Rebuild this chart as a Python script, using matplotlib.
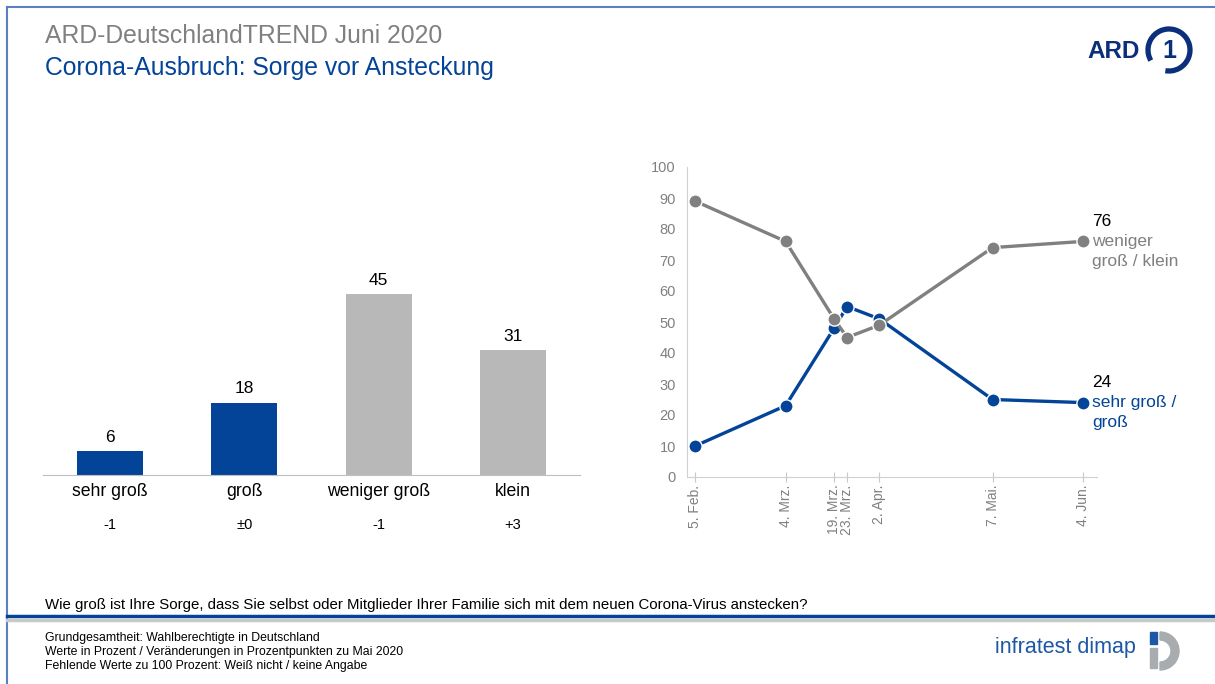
import matplotlib
matplotlib.use("Agg")
import matplotlib.pyplot as plt
from matplotlib.patches import Arc, Rectangle, Wedge
import datetime as dt

plt.rcParams['font.family'] = ['Liberation Sans', 'DejaVu Sans']

# data
bar_cats = ["sehr groß", "groß", "weniger groß", "klein"]
bar_vals = [6, 18, 45, 31]
bar_changes = ["-1", "±0", "-1", "+3"]

line_dates = ["2020-02-05", "2020-03-04", "2020-03-19", "2020-03-23",
              "2020-04-02", "2020-05-07", "2020-06-04"]
line_labels = ["5. Feb.", "4. Mrz.", "19. Mrz.", "23. Mrz.", "2. Apr.", "7. Mai.", "4. Jun."]
gross = [10, 23, 48, 55, 51, 25, 24]        # sehr groß / groß
klein = [89, 76, 51, 45, 49, 74, 76]        # weniger groß / klein

BLUE = "#034499"
GRAY = "#808080"
LGRAY = "#b8b8b8"

W, H = 1215, 684
fig = plt.figure(figsize=(W / 100, H / 100), dpi=100)

def fx(x):
    return x / W

def fy(y):
    return 1 - y / H

# frame and footer lines
bg = fig.add_axes([0, 0, 1, 1])
bg.set_xlim(0, W)
bg.set_ylim(H, 0)
bg.axis("off")
bg.plot([7, 7], [7, H], color="#5b80c0", lw=1.5)
bg.plot([7, W], [7, 7], color="#5b80c0", lw=1.5)
bg.plot([7, W], [615.5, 615.5], color=BLUE, lw=2.5)
bg.plot([7, W], [620, 620], color="#c8c8c8", lw=2.5)

# titles
fig.text(fx(45), fy(36), "ARD-DeutschlandTREND Juni 2020", color=GRAY, fontsize=17.8, va="center")
fig.text(fx(45), fy(68), "Corona-Ausbruch: Sorge vor Ansteckung", color=BLUE, fontsize=17.8, va="center")

# ARD logo (approximation)
fig.text(fx(1087), fy(51), "ARD", color="#0b2f7a", fontsize=17.5, fontweight="bold", va="center")
bg.add_patch(Arc((1169, 50), 42, 42, theta1=-210, theta2=100, color="#0b2f7a", lw=3.8))
fig.text(fx(1169), fy(51), "1", color="#0b2f7a", fontsize=18, fontweight="bold", va="center", ha="center")

# question + footer
fig.text(fx(45), fy(605), "Wie groß ist Ihre Sorge, dass Sie selbst oder Mitglieder Ihrer Familie sich mit dem neuen Corona-Virus anstecken?",
         fontsize=10.8, va="center")
foot = ["Grundgesamtheit: Wahlberechtigte in Deutschland",
        "Werte in Prozent / Veränderungen in Prozentpunkten zu Mai 2020",
        "Fehlende Werte zu 100 Prozent: Weiß nicht / keine Angabe"]
for i, s in enumerate(foot):
    fig.text(fx(45), fy(638 + i * 14), s, fontsize=8.8, va="center")

# infratest dimap logo (approximation)
fig.text(fx(995), fy(648), "infratest dimap", color="#1c58a5", fontsize=15.5, va="center")
bg.add_patch(Rectangle((1150, 632), 7, 12, color="#1c58a5"))
bg.add_patch(Wedge((1160, 651), 19, -90, 90, width=8, color="#a8acae"))
bg.add_patch(Rectangle((1150, 648), 7, 20, color="#a8acae"))

# bar chart
ax = fig.add_axes([fx(43), fy(475), fx(580) - fx(43), (475 - 274) / H])
cols = [BLUE, BLUE, LGRAY, LGRAY]
xs = range(len(bar_cats))
bars = ax.bar(xs, bar_vals, width=0.49, color=cols)
for b, v in zip(bars, bar_vals):
    ax.annotate(str(v), (b.get_x() + b.get_width() / 2, v), xytext=(0, 4.5),
                textcoords="offset points", ha="center", va="bottom", fontsize=12.5)
ax.set_xlim(-0.5, 3.5)
ax.set_ylim(0, 50)
for s in ["top", "right", "left"]:
    ax.spines[s].set_visible(False)
ax.spines["bottom"].set_color("#bfbfbf")
ax.set_yticks([])
ax.set_xticks(list(xs))
ax.set_xticklabels(bar_cats, fontsize=12.7)
ax.tick_params(axis="x", length=0, pad=6)
for x, c in zip(xs, bar_changes):
    ax.text(x, -12.4, c, ha="center", va="center", fontsize=10.5)

# line chart
days = [dt.date.fromisoformat(d).timetuple().tm_yday for d in line_dates]
ax2 = fig.add_axes([fx(687), fy(477), fx(1097) - fx(687), (477 - 167) / H])
ax2.plot(days, gross, color=BLUE, lw=2.4, marker="o", ms=9.5, mec="white", mew=1, zorder=3)
ax2.plot(days, klein, color=GRAY, lw=2.4, marker="o", ms=9.5, mec="white", mew=1, zorder=4)
ax2.set_xlim(33.5, 160.3)
ax2.set_ylim(0, 100)
ax2.set_yticks(range(0, 101, 10))
ax2.set_xticks(days)
ax2.set_xticklabels(line_labels, rotation=90, va="top", ha="center")
ax2.tick_params(axis="y", length=0, colors=GRAY, labelsize=10.5, pad=8)
ax2.tick_params(axis="x", direction="inout", length=7, color="#c8c8c8", colors=GRAY, labelsize=10, pad=2)
for s in ["top", "right"]:
    ax2.spines[s].set_visible(False)
for s in ["left", "bottom"]:
    ax2.spines[s].set_color("#d0d0d0")
for lab in ax2.get_xticklabels():
    lab.set_color(GRAY)

# end labels
xe = days[-1]
def end_label(y, lines, color):
    ax2.annotate(str(y), (xe, y), xytext=(6.5, 14.2), textcoords="offset points",
                 ha="left", va="center", fontsize=12.5, annotation_clip=False)
    for i, s in enumerate(lines):
        ax2.annotate(s, (xe, y), xytext=(6.5, -14.6 * i), textcoords="offset points",
                     ha="left", va="center", fontsize=12.5, color=color, annotation_clip=False)

end_label(klein[-1], ["weniger", "groß / klein"], GRAY)
end_label(gross[-1], ["sehr groß /", "groß"], BLUE)

fig.savefig("out.png", dpi=100)
